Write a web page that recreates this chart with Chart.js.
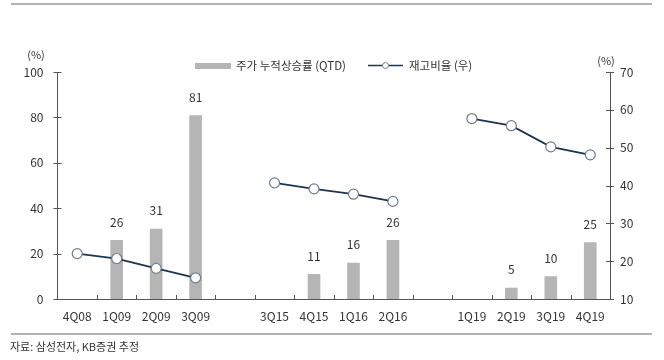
<!DOCTYPE html>
<html>
<head>
<meta charset="utf-8">
<script src="https://cdn.jsdelivr.net/npm/chart.js@4"></script>
<style>
  html, body { margin: 0; padding: 0; background: #fff; }
  #wrap { width: 664px; height: 360px; position: relative; }
</style>
</head>
<body>
<div id="wrap"><canvas id="chart"></canvas></div>
<script>
// 분기 라벨 (빈 칸은 구간 사이 간격)
const quarters = ['4Q08', '1Q09', '2Q09', '3Q09', '', '3Q15', '4Q15', '1Q16', '2Q16', '', '1Q19', '2Q19', '3Q19', '4Q19'];
// 주가 누적상승률 (QTD), %
const stockReturn = [null, 26, 31, 81, null, null, 11, 16, 26, null, null, 5, 10, 25];
// 재고비율 (우), %
const inventoryRatio = [22, 20.7, 18.1, 15.6, null, 40.7, 39.1, 37.7, 35.8, null, 57.7, 55.8, 50.2, 48.1];
const leftTicks = [0, 20, 40, 60, 80, 100];
const rightTicks = [10, 20, 30, 40, 50, 60, 70];

const FONT = '"Noto Sans CJK KR", "Noto Sans", sans-serif';
const TEXT = '#333333';
const BAR = '#b5b5b5';
const LINE = '#1e3550';
const AXIS = '#555555';

const decorPlugin = {
    id: 'decor',
    afterDraw(chart) {
        const ctx = chart.ctx;
        const x = chart.scales.x;
        const yl = chart.scales.y;
        const yr = chart.scales.y1;
        const area = chart.chartArea;
        ctx.save();

        // 상단/하단 구분선
        ctx.strokeStyle = '#9a9a9a';
        ctx.lineWidth = 1.5;
        ctx.beginPath();
        ctx.moveTo(11, 4); ctx.lineTo(652, 4);
        ctx.moveTo(11, 334); ctx.lineTo(652, 334);
        ctx.stroke();

        // 축 눈금
        ctx.strokeStyle = AXIS;
        ctx.lineWidth = 1;
        ctx.beginPath();
        leftTicks.forEach(v => {
            const py = Math.round(yl.getPixelForValue(v)) + 0.5;
            ctx.moveTo(area.left - 4, py); ctx.lineTo(area.left + 4, py);
        });
        rightTicks.forEach(v => {
            const py = Math.round(yr.getPixelForValue(v)) + 0.5;
            ctx.moveTo(area.right - 4, py); ctx.lineTo(area.right + 4, py);
        });
        for (let i = 1; i < quarters.length; i++) {
            const px = Math.round((x.getPixelForValue(i - 1) + x.getPixelForValue(i)) / 2) + 0.5;
            ctx.moveTo(px, area.bottom); ctx.lineTo(px, area.bottom - 4);
        }
        ctx.stroke();

        // 막대 값 라벨
        ctx.fillStyle = TEXT;
        ctx.font = '12px ' + FONT;
        ctx.textAlign = 'center';
        ctx.textBaseline = 'middle';
        const meta = chart.getDatasetMeta(0);
        meta.data.forEach((bar, i) => {
            if (stockReturn[i] == null) return;
            ctx.fillText(String(stockReturn[i]), bar.x, bar.y - 18);
        });

        // 축 단위
        ctx.font = '11px ' + FONT;
        ctx.fillText('(%)', 36, 55);
        ctx.fillText('(%)', 606, 61);

        // 범례
        ctx.fillStyle = BAR;
        ctx.fillRect(195, 63, 36, 6);
        ctx.fillStyle = TEXT;
        ctx.textAlign = 'left';
        ctx.font = '11.5px ' + FONT;
        ctx.fillText('주가 누적상승률 (QTD)', 236, 66);
        ctx.strokeStyle = LINE;
        ctx.lineWidth = 1.5;
        ctx.beginPath();
        ctx.moveTo(368, 65.5); ctx.lineTo(403, 65.5);
        ctx.stroke();
        ctx.beginPath();
        ctx.arc(385.5, 65.5, 3, 0, Math.PI * 2);
        ctx.fillStyle = '#ffffff';
        ctx.fill();
        ctx.strokeStyle = '#6d7d8f';
        ctx.lineWidth = 1;
        ctx.stroke();
        ctx.fillStyle = TEXT;
        ctx.fillText('재고비율 (우)', 409, 66);

        // 출처
        ctx.font = '11px ' + FONT;
        ctx.fillText('자료: 삼성전자, KB증권 추정', 10, 347);
        ctx.restore();
    }
};

new Chart(document.getElementById('chart'), {
    type: 'bar',
    data: {
        labels: quarters,
        datasets: [{
            type: 'bar',
            label: '주가 누적상승률 (QTD)',
            data: stockReturn,
            yAxisID: 'y',
            backgroundColor: BAR,
            borderWidth: 0,
            categoryPercentage: 1,
            barPercentage: 0.32,
            order: 2
        }, {
            type: 'line',
            label: '재고비율 (우)',
            data: inventoryRatio,
            yAxisID: 'y1',
            borderColor: LINE,
            borderWidth: 1.8,
            pointRadius: 5,
            pointBackgroundColor: '#ffffff',
            pointBorderColor: '#6d7d8f',
            pointBorderWidth: 1.2,
            spanGaps: false,
            tension: 0,
            order: 1
        }]
    },
    options: {
        responsive: true,
        maintainAspectRatio: false,
        animation: false,
        layout: { padding: { top: 72, left: 0, right: 0, bottom: 0 } },
        plugins: {
            legend: { display: false },
            tooltip: { enabled: false }
        },
        scales: {
            x: {
                offset: true,
                grid: { display: false, drawTicks: false },
                border: { color: AXIS, width: 1 },
                ticks: {
                    color: TEXT,
                    padding: 10,
                    font: { size: 12, family: FONT },
                    maxRotation: 0,
                    autoSkip: false
                },
                afterFit(scale) { scale.height = 61; }
            },
            y: {
                position: 'left',
                min: 0,
                max: 100,
                grid: { display: false, drawTicks: false },
                border: { color: AXIS, width: 1 },
                ticks: {
                    stepSize: 20,
                    color: TEXT,
                    padding: 14,
                    font: { size: 12, family: FONT }
                },
                afterFit(scale) { scale.width = 57.5; }
            },
            y1: {
                position: 'right',
                min: 10,
                max: 70,
                grid: { display: false, drawTicks: false },
                border: { color: AXIS, width: 1 },
                ticks: {
                    stepSize: 10,
                    color: TEXT,
                    padding: 10,
                    font: { size: 12, family: FONT }
                },
                afterFit(scale) { scale.width = 54; }
            }
        }
    },
    plugins: [decorPlugin]
});
</script>
</body>
</html>
